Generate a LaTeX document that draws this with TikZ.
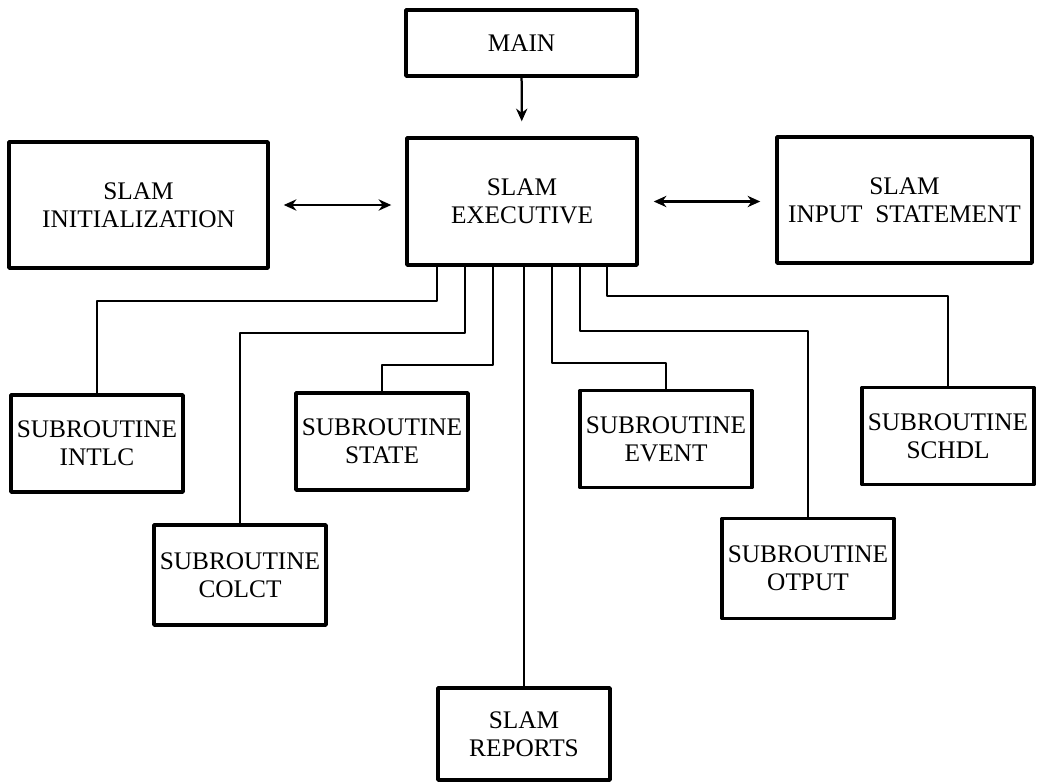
\documentclass[tikz,border=0pt]{standalone}
\usepackage{fontspec}
\setmainfont{Liberation Serif}
\usetikzlibrary{arrows.meta}
\begin{document}
\begin{tikzpicture}[x=0.025cm,y=-0.025cm,>={Stealth[length=9pt,width=8pt]},line join=round,line cap=round,font=\fontsize{18}{20}\selectfont,
	box/.style={draw,line width=2.4pt,align=center,inner sep=0pt},
	sub/.style={box,minimum width=4.3cm,minimum height=2.425cm},
	link/.style={line width=1.6pt}]
	\useasboundingbox (0,0) rectangle (1040,783);
	\path
	(521.5,43) node[box,minimum width=5.775cm,minimum height=1.65cm] (main) {MAIN}
	(522,201.5) node[box,minimum width=5.75cm,minimum height=3.175cm] (exec) {SLAM\\EXECUTIVE}
	(138.5,205) node[box,minimum width=6.475cm,minimum height=3.15cm] (init) {SLAM\\INITIALIZATION}
	(904.5,200) node[box,minimum width=6.375cm,minimum height=3.15cm] (input) {SLAM\\INPUT\ \ STATEMENT}
	(97,443.5) node[sub] (intlc) {SUBROUTINE\\INTLC}
	(240,575) node[sub,minimum height=2.5cm] (colct) {SUBROUTINE\\COLCT}
	(382,441.5) node[sub] (state) {SUBROUTINE\\STATE}
	(524,734) node[sub,minimum height=2.3cm] (reports) {SLAM\\REPORTS}
	(666,439) node[sub] (event) {SUBROUTINE\\EVENT}
	(808,568.5) node[sub,minimum height=2.5cm] (otput) {SUBROUTINE\\OTPUT}
	(948,436) node[sub] (schdl) {SUBROUTINE\\SCHDL}
	;
	\draw[link,->,shorten >=0.375cm] (main) -- (exec);
	\draw[link,<->,shorten <=0.35cm,shorten >=0.35cm] (init.east) -- (init.east -| exec.west);
	\draw[link,<->,shorten <=0.375cm,shorten >=0.375cm] (exec.east) -- (exec.east -| input.west);
	\foreach \n/\dx/\dy in {intlc/-85/34,colct/-57/66,state/-29/98,event/30/96,otput/58/64,schdl/85/29}
		\draw[link] (exec.south) ++(\dx,0) -- ++(0,\dy) -| (\n.north);
	\draw[link] (exec.south -| reports.north) -- (reports.north);
\end{tikzpicture}
\end{document}
